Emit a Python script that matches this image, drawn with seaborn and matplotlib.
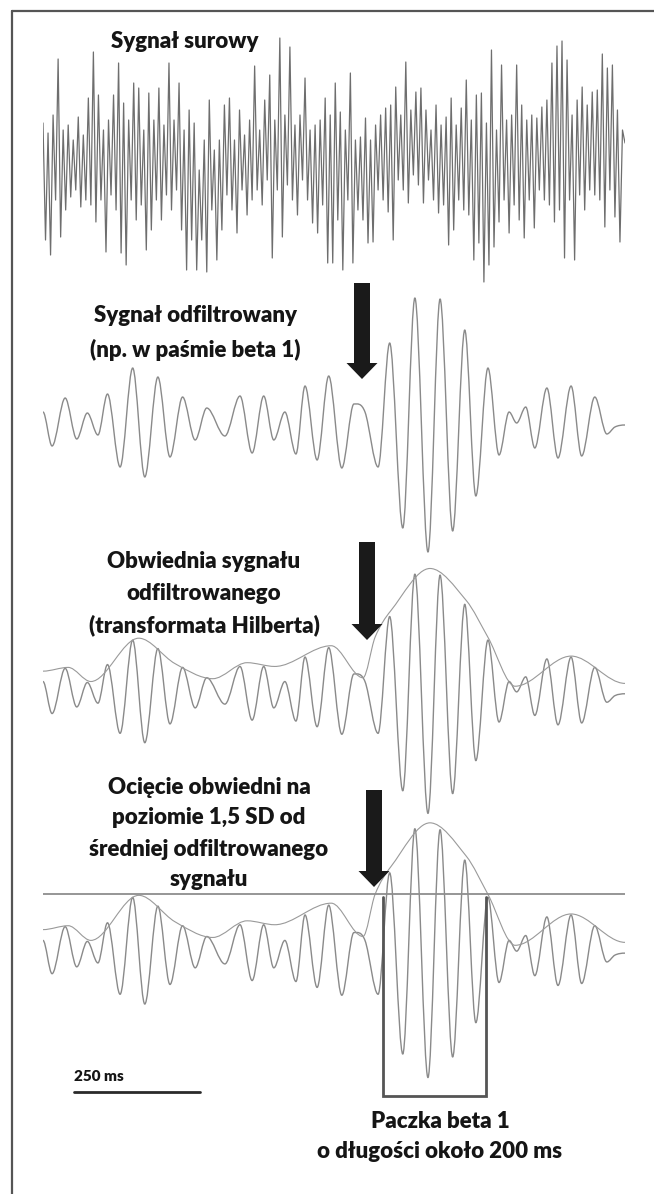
import numpy as np
import matplotlib
matplotlib.use("Agg")
import matplotlib.pyplot as plt
import seaborn as sns
from matplotlib.path import Path
from matplotlib.patches import PathPatch, Polygon

# raw EEG trace, one sample every 5 ms
raw_step_ms = 5
raw_values = [
    37, -80, 27, -95, 45, -40, 101, -77, 30, -50, 35, -37, 20, -30, 43, -47, 25, -40, 62, -45,
    108, -62, 65, -40, 30, -92, 40, -35, 65, -50, 97, -93, 57, -105, 40, -40, 77, -60, 72, -45,
    30, -90, 67, -70, 40, -40, 72, -60, 35, -35, 97, -50, 40, -30, 77, -70, 30, -110, 50, -80,
    37, -110, -10, -80, 20, -112, 60, -50, 10, -100, 20, -70, 55, -35, 62, -50, 20, -73, 50, -30,
    25, -55, 40, -40, 94, -30, 30, -45, 60, -20, 85, -98, 40, -30, 122, -77, 45, -25, 113, -40,
    35, -55, 45, -20, 82, -40, 30, -63, 35, -73, 40, -45, 62, -103, 45, -103,
    77, -60, 48, -110, 30, -40, 87, -103, 20, -50, 23, -60, 42, -83, 20, -82, 35, -30, 45, -40,
    52, -52, 55, -80, 73, -20, 45, -30, 98, -43, 50, -15, 68, -25, 72, -43, 50, -20, 30, -40,
    55, -53, 35, -45, 43, -85, 62, -70, 35, -40, 52, -50, 80, -55, 40, -100, 65, -83,
    67, -122, 37, -105, 110, -87, 30, -62, 95, -40, 40, -73, 45, -45, 95, -60, 55, -78, 40, -40,
    45, -68, 42, -30, 53, -40, 60, -45, 97, -62, 114, -50, 119, -98, 100, -40, 45, -100, 60, -35,
    73, -50, 55, -30, 68, -35, 70, -40, 106, -67, 92, -30, 95, -57, 50, -82, 30, 17,
]

# band-pass filtered signal (beta 1): extrema, time in ms
filt_t = [0, 18, 44, 67, 88, 109, 128, 153, 178, 202, 228, 252, 277, 302, 325, 361, 391,
          415, 438, 458, 480, 502, 520, 544, 567, 593, 617, 639, 665, 688, 714, 738, 764,
          788, 813, 837, 859, 883, 905, 925, 940, 958, 976, 1000, 1022, 1048, 1069, 1095,
          1119, 1135, 1155]
filt_v = [11, -23, 25, -16, 10, -12, 29, -44, 55, -54, 46, -34, 26, -17, 15, -13, 27,
          -30, 27, -17, 11, -31, 37, -37, 47, -45, 19, 11, -44, 80, -105, 125, -129,
          124, -108, 93, -73, 55, -32, 11, 0, 16, -25, 35, -35, 37, -33, 26,
          -11, -4, -2]

# Hilbert envelope of the filtered signal
env_t = [0, 50, 95, 190, 262, 337, 405, 460, 572, 635, 659, 690, 768, 840, 883, 937, 1048, 1155]
env_v = [22, 26, 11, 57, 30, 14, 31, 27, 49, 15, 58, 86, 131, 97, 58, 6, 38, 9]

threshold = 58            # 1.5 SD level
burst_start, burst_end = 675, 879
scale_ms = 250

W, H = 654, 1194
FONT = ["Lato", "DejaVu Sans"]
TXT = "#151515"

sns.set_style("white")
plt.rcParams["font.family"] = FONT

fig = plt.figure(figsize=(W / 100, H / 100), dpi=100)


def panel(top, bottom, ylim):
    ax = fig.add_axes([43 / W, 1 - bottom / H, (625 - 43) / W, (bottom - top) / H])
    ax.set_xlim(0, 1155)
    ax.set_ylim(*ylim)
    ax.axis("off")
    ax.patch.set_alpha(0)
    return ax


def smooth(ax, t, v, color, lw):
    # cubic Hermite segments drawn as bezier curves, flat tangents at extrema
    t = np.asarray(t, float)
    v = np.asarray(v, float)
    m = np.zeros_like(v)
    for i in range(1, len(v) - 1):
        if (v[i] - v[i - 1]) * (v[i + 1] - v[i]) > 0:
            m[i] = (v[i + 1] - v[i - 1]) / (t[i + 1] - t[i - 1])
    verts = [(t[0], v[0])]
    codes = [Path.MOVETO]
    for i in range(len(t) - 1):
        h = (t[i + 1] - t[i]) / 3
        verts += [(t[i] + h, v[i] + m[i] * h), (t[i + 1] - h, v[i + 1] - m[i + 1] * h),
                  (t[i + 1], v[i + 1])]
        codes += [Path.CURVE4] * 3
    ax.add_patch(PathPatch(Path(verts, codes), fill=False, ec=color, lw=lw,
                           capstyle="round", joinstyle="round"))


# 1: raw signal
ax1 = panel(30, 290, (-130, 130))
raw_t = np.arange(len(raw_values)) * raw_step_ms
sns.lineplot(x=raw_t, y=raw_values, ax=ax1, color="#6e6e6e", linewidth=0.9)
ax1.axis("off")

# 2: filtered signal
ax2 = panel(290, 560, (-137, 133))
smooth(ax2, filt_t, filt_v, "#8a8a8a", 1.0)

# 3: filtered signal + envelope
ax3 = panel(560, 820, (-136, 140))
smooth(ax3, filt_t, filt_v, "#8a8a8a", 1.0)
smooth(ax3, env_t, env_v, "#9a9a9a", 0.8)

# 4: threshold and burst
ax4 = panel(815, 1105, (-157, 139))
smooth(ax4, filt_t, filt_v, "#8a8a8a", 1.0)
smooth(ax4, env_t, env_v, "#9a9a9a", 0.8)
ax4.axhline(threshold, color="#8e8e8e", lw=1.3)
box_top, box_bottom = threshold - 3, -148
ax4.plot([burst_start, burst_start, burst_end, burst_end],
         [box_top, box_bottom, box_bottom, box_top], color="#555555", lw=2.0,
         solid_joinstyle="miter")
bar_x0 = 62
ax4.plot([bar_x0, bar_x0 + scale_ms], [-144, -144], color="#2a2a2a", lw=2.0)
ax4.text(bar_x0, -128, f"{scale_ms} ms", ha="left", va="center", fontsize=11,
         fontweight="heavy", color=TXT, family=FONT)

# overlay in pixel units for frame, arrows and captions
ax0 = fig.add_axes([0, 0, 1, 1], zorder=5)
ax0.set_xlim(0, W)
ax0.set_ylim(H, 0)
ax0.axis("off")
ax0.patch.set_alpha(0)
ax0.plot([12, W], [10.5, 10.5], color="#555555", lw=1.6)
ax0.plot([12, 12], [10.5, H], color="#555555", lw=1.6)


def arrow(cx, y0, y1, sw=8, hw=15.5, hl=16):
    pts = [(cx - sw, y0), (cx + sw, y0), (cx + sw, y1 - hl), (cx + hw, y1 - hl),
           (cx, y1), (cx - hw, y1 - hl), (cx - sw, y1 - hl)]
    ax0.add_patch(Polygon(pts, closed=True, fc="#1a1a1a", ec="none"))


arrow(362, 283, 379)
arrow(367, 542, 640)
arrow(374, 790, 887)

captions = [
    (185, [42], ["Sygnał surowy"]),
    (195, [315, 350], ["Sygnał odfiltrowany", "(np. w paśmie beta 1)"]),
    (204, [561, 593, 625], ["Obwiednia sygnału", "odfiltrowanego", "(transformata Hilberta)"]),
    (209, [787, 818, 849, 879], ["Ocięcie obwiedni na", "poziomie 1,5 SD od",
                                 "średniej odfiltrowanego", "sygnału"]),
    (440, [1122, 1152], ["Paczka beta 1", "o długości około 200 ms"]),
]
for cx, ys, lines in captions:
    for y, s in zip(ys, lines):
        ax0.text(cx, y, s, ha="center", va="center", fontsize=16, fontweight="heavy",
                 color=TXT, family=FONT)

fig.savefig("out.png", dpi=100)
